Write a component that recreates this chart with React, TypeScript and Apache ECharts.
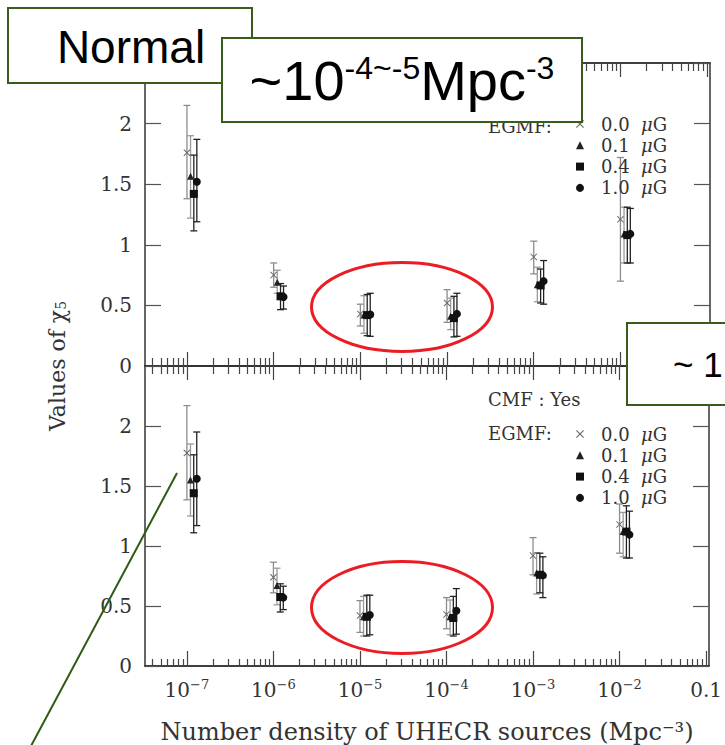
import React, { useEffect, useRef } from 'react';
import * as echarts from 'echarts';

// ---------- data ----------
const densities = [1e-7, 1e-6, 1e-5, 1e-4, 1e-3, 1e-2];
const fieldNames = ['0.0 μG', '0.1 μG', '0.4 μG', '1.0 μG'];

// Upper panel (CMF : No)
const noCmfVal = [
  [1.76, 0.75, 0.43, 0.52, 0.9, 1.21],
  [1.565, 0.69, 0.42, 0.41, 0.67, 1.09],
  [1.42, 0.575, 0.42, 0.395, 0.665, 1.08],
  [1.52, 0.57, 0.425, 0.43, 0.7, 1.09],
];
const noCmfLow = [
  [1.38, 0.65, 0.33, 0.36, 0.76, 0.7],
  [1.22, 0.6, 0.27, 0.3, 0.53, 0.85],
  [1.115, 0.465, 0.25, 0.24, 0.52, 0.85],
  [1.19, 0.47, 0.245, 0.245, 0.51, 0.85],
];
const noCmfHigh = [
  [2.15, 0.85, 0.51, 0.63, 1.03, 1.72],
  [1.9, 0.79, 0.58, 0.56, 0.815, 1.31],
  [1.74, 0.68, 0.59, 0.575, 0.8, 1.31],
  [1.87, 0.66, 0.6, 0.6, 0.87, 1.3],
];

// Lower panel (CMF : Yes)
const cmfVal = [
  [1.775, 0.74, 0.42, 0.43, 0.92, 1.18],
  [1.55, 0.67, 0.41, 0.41, 0.775, 1.12],
  [1.44, 0.575, 0.41, 0.4, 0.76, 1.12],
  [1.56, 0.57, 0.425, 0.46, 0.755, 1.095],
];
const cmfLow = [
  [1.385, 0.61, 0.28, 0.31, 0.76, 0.94],
  [1.25, 0.51, 0.25, 0.26, 0.6, 0.91],
  [1.11, 0.45, 0.25, 0.25, 0.61, 0.9],
  [1.17, 0.47, 0.26, 0.265, 0.57, 0.9],
];
const cmfHigh = [
  [2.17, 0.865, 0.545, 0.57, 1.07, 1.35],
  [1.85, 0.815, 0.58, 0.55, 0.945, 1.28],
  [1.76, 0.685, 0.59, 0.58, 0.94, 1.335],
  [1.95, 0.665, 0.59, 0.645, 0.91, 1.29],
];

const xMajorTicks = [1e-7, 1e-6, 1e-5, 1e-4, 1e-3, 1e-2, 1e-1];
const xTickLabels = ['10^−7', '10^−6', '10^−5', '10^−4', '10^−3', '10^−2', '0.1'];
const yTicks = [0, 0.5, 1, 1.5, 2];

// ---------- styling ----------
const SERIF = 'DejaVu Serif';
const SANS = 'Liberation Sans';
const X_MIN = Math.pow(10, -7.484);
const X_MAX = Math.pow(10, -0.967);
const dodge = [1, 1.1, 1.2, 1.3];
const markColors = ['#6a6a6a', '#222', '#111', '#111'];
const barColors = ['#8c8c8c', '#9a9a9a', '#222', '#222'];
const symbols = [
  'path://M0,1L1,0L5,4L9,0L10,1L6,5L10,9L9,10L5,6L1,10L0,9L4,5Z',
  'triangle',
  'rect',
  'circle',
];
const symbolSizes = [7, 7, 8, 8];

const minorTicks: number[] = [];
for (let k = -8; k <= -1; k++) {
  for (let m = 2; m <= 9; m++) {
    const v = m * Math.pow(10, k);
    if (v > X_MIN && v < X_MAX) minorTicks.push(v);
  }
}

function xLabelFormatter(v: number) {
  let idx = -1;
  xMajorTicks.forEach((t, i) => {
    if (Math.abs(Math.log10(v) - Math.log10(t)) < 1e-6) idx = i;
  });
  if (idx < 0) return '';
  const lab = xTickLabels[idx];
  if (lab.indexOf('^') >= 0) {
    const [b, s] = lab.split('^');
    return `{b|${b}}{s|${s}}`;
  }
  return `{b|${lab}}`;
}

function makeXAxis(gridIndex: number, position: string, ticks: number[], len: number, labels: boolean, extra: any = {}) {
  return {
    type: 'log',
    logBase: 10,
    gridIndex,
    position,
    min: X_MIN,
    max: X_MAX,
    axisLine: { show: true, onZero: false, lineStyle: { color: '#333', width: 1.5 } },
    axisTick: { show: true, inside: true, length: len, customValues: ticks, lineStyle: { color: '#444', width: 1.2 } },
    axisLabel: labels
      ? {
          show: true,
          customValues: xMajorTicks,
          margin: 12,
          formatter: xLabelFormatter,
          rich: {
            b: { fontFamily: SERIF, fontSize: 20, color: '#333', lineHeight: 22, verticalAlign: 'bottom' },
            s: { fontFamily: SERIF, fontSize: 13, color: '#333', verticalAlign: 'top' },
          },
        }
      : { show: false },
    splitLine: { show: false },
    minorTick: { show: false },
    minorSplitLine: { show: false },
    ...extra,
  };
}

function makeYAxis(gridIndex: number, position: string, labels: boolean) {
  return {
    type: 'value',
    gridIndex,
    position,
    min: 0,
    max: 2.5,
    interval: 0.5,
    axisLine: { show: true, onZero: false, lineStyle: { color: '#333', width: 1.5 } },
    axisTick: { show: true, inside: true, length: 16, lineStyle: { color: '#555', width: 1.2 } },
    axisLabel: labels
      ? {
          show: true,
          margin: 13,
          showMaxLabel: false,
          fontFamily: SERIF,
          fontSize: 20,
          color: '#333',
          formatter: (v: number) => (yTicks.indexOf(v) >= 0 ? String(v) : ''),
        }
      : { show: false },
    splitLine: { show: false },
  };
}

function panelSeries(xAxisIndex: number, yAxisIndex: number, vals: number[][], lows: number[][], highs: number[][]) {
  const out: any[] = [];
  for (let f = 0; f < 4; f++) {
    const color = barColors[f];
    out.push({
      type: 'custom',
      xAxisIndex,
      yAxisIndex,
      silent: true,
      z: 2,
      encode: { x: 0, y: [1, 2] },
      data: densities.map((d, i) => [d * dodge[f], lows[f][i], highs[f][i]]),
      renderItem: (params: any, api: any) => {
        const x = api.value(0);
        const top = api.coord([x, api.value(2)]);
        const bot = api.coord([x, api.value(1)]);
        const w = 3.5;
        const style = { stroke: color, lineWidth: 1.3 };
        return {
          type: 'group',
          children: [
            { type: 'line', shape: { x1: top[0], y1: top[1], x2: bot[0], y2: bot[1] }, style },
            { type: 'line', shape: { x1: top[0] - w, y1: top[1], x2: top[0] + w, y2: top[1] }, style },
            { type: 'line', shape: { x1: bot[0] - w, y1: bot[1], x2: bot[0] + w, y2: bot[1] }, style },
          ],
        };
      },
    });
  }
  for (let f = 0; f < 4; f++) {
    out.push({
      type: 'scatter',
      name: fieldNames[f],
      xAxisIndex,
      yAxisIndex,
      symbol: symbols[f],
      symbolSize: symbolSizes[f],
      itemStyle: { color: markColors[f], opacity: 1 },
      z: 3,
      silent: true,
      data: densities.map((d, i) => [d * dodge[f], vals[f][i]]),
    });
  }
  return out;
}

function makeLegend(top: number) {
  return {
    orient: 'vertical',
    left: 571,
    top,
    itemWidth: 8,
    itemHeight: 8,
    itemGap: 1.3,
    selectedMode: false,
    data: fieldNames.map((n, f) => ({ name: n, icon: symbols[f] })),
    formatter: (name: string) => {
      const num = name.split(' ')[0];
      return `{f|${num}}{a|  }{i|μ}{a|G}`;
    },
    textStyle: {
      fontFamily: SERIF,
      fontSize: 18,
      color: '#333',
      lineHeight: 20,
      rich: {
        f: { fontFamily: SERIF, fontSize: 18, color: '#333', padding: [0, 0, 0, 12] },
        a: { fontFamily: SERIF, fontSize: 18, color: '#333' },
        i: { fontFamily: SERIF, fontSize: 18, color: '#333', fontStyle: 'italic' },
      },
    },
  };
}

function boxGroup(x: number, y: number, w: number, h: number, text: any) {
  return {
    type: 'group',
    z: 100,
    children: [
      { type: 'rect', shape: { x, y, width: w, height: h }, style: { fill: '#fff', stroke: '#385d1a', lineWidth: 2 }, z: 100 },
      { ...text, z: 101 },
    ],
  };
}

export default function App() {
  const ref = useRef<HTMLDivElement>(null);
  useEffect(() => {
    if (!ref.current) return;
    const chart = echarts.init(ref.current, null, { renderer: 'svg' });
    const option: any = {
      animation: false,
      backgroundColor: '#fff',
      grid: [
        { left: 145, top: 63, width: 565, height: 303 },
        { left: 145, top: 366, width: 565, height: 303 },
      ],
      xAxis: [
        makeXAxis(0, 'bottom', xMajorTicks, 14, false),
        makeXAxis(0, 'bottom', minorTicks, 8, false),
        makeXAxis(0, 'top', xMajorTicks, 14, false),
        makeXAxis(0, 'top', minorTicks, 8, false),
        makeXAxis(1, 'bottom', xMajorTicks, 15, true, {
          name: 'Number density of UHECR sources (Mpc⁻³)',
          nameLocation: 'middle',
          nameGap: 54,
          nameTextStyle: { fontFamily: SERIF, fontSize: 24, color: '#333' },
        }),
        makeXAxis(1, 'bottom', minorTicks, 7, false),
        makeXAxis(1, 'top', xMajorTicks, 14, false),
        makeXAxis(1, 'top', minorTicks, 8, false),
      ],
      yAxis: [makeYAxis(0, 'left', true), makeYAxis(0, 'right', false), makeYAxis(1, 'left', true), makeYAxis(1, 'right', false)],
      legend: [makeLegend(109), makeLegend(419)],
      series: [...panelSeries(0, 0, noCmfVal, noCmfLow, noCmfHigh), ...panelSeries(4, 2, cmfVal, cmfLow, cmfHigh)],
      graphic: [
        {
          type: 'text',
          x: 55,
          y: 366,
          rotation: Math.PI / 2,
          style: {
            text: '{n|Values of χ}{s|5}',
            align: 'center',
            verticalAlign: 'middle',
            rich: {
              n: { fontFamily: SERIF, fontSize: 22, fill: '#333', lineHeight: 26, verticalAlign: 'bottom' },
              s: { fontFamily: SERIF, fontSize: 14, fill: '#333', verticalAlign: 'bottom' },
            },
          },
        },
        { type: 'text', x: 488, y: 126, style: { text: 'EGMF:', fontFamily: SERIF, fontSize: 18, fill: '#333', verticalAlign: 'middle' } },
        { type: 'text', x: 488, y: 399, style: { text: 'CMF : Yes', fontFamily: SERIF, fontSize: 18, fill: '#333', verticalAlign: 'middle' } },
        { type: 'text', x: 488, y: 433, style: { text: 'EGMF:', fontFamily: SERIF, fontSize: 18, fill: '#333', verticalAlign: 'middle' } },
        { type: 'ellipse', z: 90, shape: { cx: 402, cy: 307, rx: 90.5, ry: 44.5 }, style: { fill: 'none', stroke: '#ec1c24', lineWidth: 3 } },
        { type: 'ellipse', z: 90, shape: { cx: 402, cy: 607.5, rx: 90.5, ry: 46 }, style: { fill: 'none', stroke: '#ec1c24', lineWidth: 3 } },
        { type: 'line', z: 90, shape: { x1: 177, y1: 473, x2: 31, y2: 746 }, style: { stroke: '#2f5a12', lineWidth: 2 } },
        boxGroup(8, 8, 244, 75, {
          type: 'text',
          x: 131,
          y: 47,
          style: { text: 'Normal', fontFamily: SANS, fontSize: 46, fill: '#000', align: 'center', verticalAlign: 'middle' },
        }),
        boxGroup(222, 38, 360, 84, {
          type: 'text',
          x: 402,
          y: 80,
          style: {
            text: '{b|~10}{s|-4~-5}{b|Mpc}{s|-3}',
            align: 'center',
            verticalAlign: 'middle',
            rich: {
              b: { fontFamily: SANS, fontSize: 56, fill: '#000', lineHeight: 56, verticalAlign: 'bottom' },
              s: { fontFamily: SANS, fontSize: 32, fill: '#000', verticalAlign: 'top' },
            },
          },
        }),
        boxGroup(627, 323, 120, 82, {
          type: 'text',
          x: 673,
          y: 364,
          style: { text: '~ 1', fontFamily: SANS, fontSize: 35, fill: '#000', align: 'left', verticalAlign: 'middle' },
        }),
      ],
    };
    chart.setOption(option);
    return () => chart.dispose();
  }, []);
  return <div ref={ref} style={{ position: 'absolute', left: 0, top: 0, width: 725, height: 745, background: '#fff' }} />;
}
